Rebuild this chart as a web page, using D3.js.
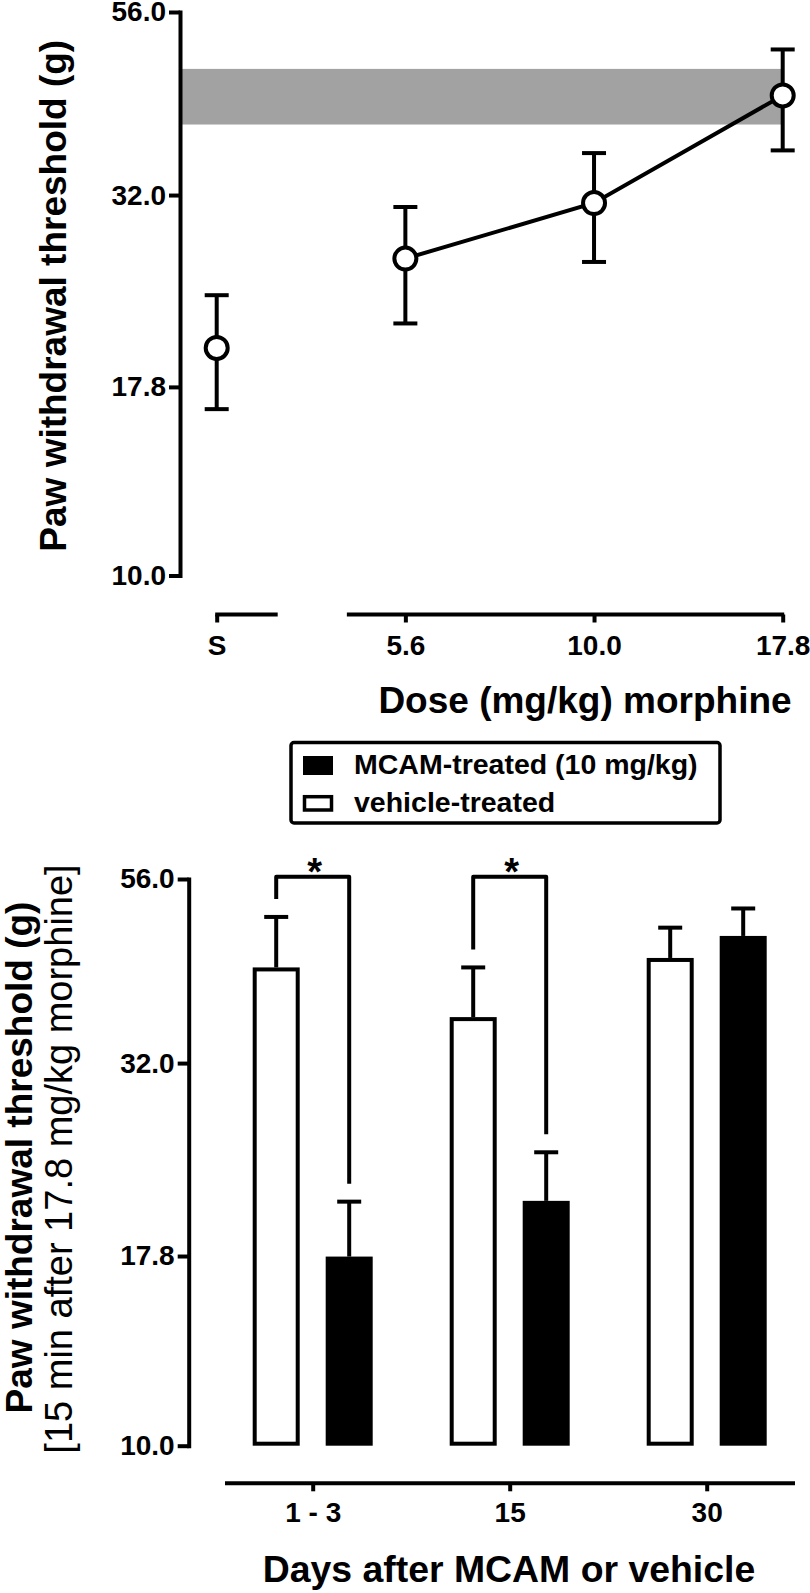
<!DOCTYPE html>
<html>
<head>
<meta charset="utf-8">
<script src="https://cdn.jsdelivr.net/npm/d3@7"></script>
<style>
  html, body { margin: 0; padding: 0; background: #fff; }
  svg { display: block; }
  text { font-family: "Liberation Sans", Arial, Helvetica, sans-serif; fill: #000; }
</style>
</head>
<body>
<script>
// ---------------- data ----------------
const doseLabels = ["S", "5.6", "10.0", "17.8"];
const doseMean   = [20.05, 26.35, 31.23, 43.39];
const doseLow    = [16.63, 21.61, 26.08, 36.68];
const doseHigh   = [23.56, 30.85, 36.38, 49.94];
const connectedDoses = ["5.6", "10.0", "17.8"];
const baselineBand = [39.7, 47.06];

const yTickValues = [10, 17.8, 32, 56];

const dayLabels   = ["1 - 3", "15", "30"];
const groupKeys   = ["vehicle", "MCAM"];
const legendNames = ["MCAM-treated (10 mg/kg)", "vehicle-treated"];
const vehicleMean = [42.8, 36.8, 44.05];
const vehicleHigh = [49.9, 42.8, 48.3];
const mcamMean    = [17.77, 21.05, 47.1];
const mcamHigh    = [21.0, 24.4, 51.2];
const sigDays     = ["1 - 3", "15"];
const sigLabel    = "*";
const bracketTopValue = 56.4;

// ---------------- setup ----------------
const W = 810, H = 1593;
const svg = d3.select("body").append("svg").attr("width", W).attr("height", H);
const SW = 4;
const fmt = d3.format(".1f");

function styleAxis(g) {
  g.selectAll("path.domain").attr("stroke", "#000").attr("stroke-width", SW).attr("stroke-linecap", "square");
  g.selectAll(".tick line").attr("stroke", "#000").attr("stroke-width", SW);
  g.selectAll(".tick text").attr("fill", "#000").style("font-size", "28px").style("font-weight", "bold")
    .style("font-family", '"Liberation Sans", Arial, sans-serif');
}

// ================= TOP PANEL =================
const topAxisX = 180;
const yTop = d3.scaleLog().domain([10, 56]).range([575.5, 12]);
const xTop = d3.scalePoint().domain(doseLabels).range([216.7, 782.7]);

// baseline band
svg.append("rect")
  .attr("x", topAxisX)
  .attr("y", yTop(baselineBand[1]))
  .attr("width", xTop("17.8") - topAxisX)
  .attr("height", yTop(baselineBand[0]) - yTop(baselineBand[1]))
  .attr("fill", "#a2a2a2");

// y axis
const gyTop = svg.append("g").attr("transform", `translate(${topAxisX},0)`)
  .call(d3.axisLeft(yTop).tickValues(yTickValues).tickFormat(fmt).tickSize(11).tickSizeOuter(0).tickPadding(3));
styleAxis(gyTop);

// x axis (broken)
const axisTopY = 614.5;
const gxTop = svg.append("g").attr("transform", `translate(0,${axisTopY})`)
  .call(d3.axisBottom(xTop).tickSize(8).tickSizeOuter(0).tickPadding(13));
styleAxis(gxTop);
gxTop.select("path.domain").remove();
gxTop.append("line").attr("x1", xTop("S") - 1.5).attr("x2", xTop("S") + 61)
  .attr("y1", 0).attr("y2", 0).attr("stroke", "#000").attr("stroke-width", SW);
gxTop.append("line").attr("x1", xTop("5.6") - 58.5).attr("x2", xTop("17.8") + 1.5)
  .attr("y1", 0).attr("y2", 0).attr("stroke", "#000").attr("stroke-width", SW);

// error bars
const capHalf = 12;
const topPts = doseLabels.map((d, i) => ({ dose: d, m: doseMean[i], lo: doseLow[i], hi: doseHigh[i] }));
const eb = svg.append("g").attr("stroke", "#000").attr("stroke-width", SW).attr("fill", "none");
topPts.forEach(p => {
  const x = xTop(p.dose);
  eb.append("line").attr("x1", x).attr("x2", x).attr("y1", yTop(p.lo)).attr("y2", yTop(p.hi));
  eb.append("line").attr("x1", x - capHalf).attr("x2", x + capHalf).attr("y1", yTop(p.lo)).attr("y2", yTop(p.lo));
  eb.append("line").attr("x1", x - capHalf).attr("x2", x + capHalf).attr("y1", yTop(p.hi)).attr("y2", yTop(p.hi));
});

// connecting line
const line = d3.line().x(p => xTop(p.dose)).y(p => yTop(p.m));
svg.append("path")
  .datum(topPts.filter(p => connectedDoses.includes(p.dose)))
  .attr("d", line).attr("fill", "none").attr("stroke", "#000").attr("stroke-width", SW);

// points
svg.append("g").selectAll("circle").data(topPts).join("circle")
  .attr("cx", p => xTop(p.dose)).attr("cy", p => yTop(p.m)).attr("r", 11)
  .attr("fill", "#fff").attr("stroke", "#000").attr("stroke-width", SW);

// titles
svg.append("text")
  .attr("transform", `translate(65.5,${(yTop(10) + yTop(56)) / 2 + 2}) rotate(-90)`)
  .attr("text-anchor", "middle").style("font-size", "37px").style("font-weight", "bold")
  .text("Paw withdrawal threshold (g)");
svg.append("text")
  .attr("x", 585).attr("y", 713).attr("text-anchor", "middle")
  .style("font-size", "37px").style("font-weight", "bold")
  .text("Dose (mg/kg) morphine");

// ================= LEGEND =================
const lg = svg.append("g");
lg.append("rect").attr("x", 291).attr("y", 742.5).attr("width", 429).attr("height", 80.5)
  .attr("rx", 3).attr("fill", "#fff").attr("stroke", "#000").attr("stroke-width", 3.5);
lg.append("rect").attr("x", 303).attr("y", 756).attr("width", 30).attr("height", 19).attr("fill", "#000");
lg.append("rect").attr("x", 304.5).attr("y", 796.7).attr("width", 27).attr("height", 13.3)
  .attr("fill", "#fff").attr("stroke", "#000").attr("stroke-width", 3.5);
lg.selectAll("text.lab").data(legendNames).join("text").attr("class", "lab")
  .attr("x", 354).attr("y", (d, i) => 774 + i * 38)
  .style("font-size", "28.5px").style("font-weight", "bold").text(d => d);

// ================= BOTTOM PANEL =================
const botAxisX = 188.7;
const yBot = d3.scaleLog().domain([10, 56]).range([1445.7, 879]);
const xDay = d3.scalePoint().domain(dayLabels).range([312.7, 706.7]);
const xSub = d3.scaleBand().domain(groupKeys).range([-60, 60]).paddingInner(0.356);
const bw = xSub.bandwidth();

const gyBot = svg.append("g").attr("transform", `translate(${botAxisX},0)`)
  .call(d3.axisLeft(yBot).tickValues(yTickValues).tickFormat(fmt).tickSize(11).tickSizeOuter(0).tickPadding(3));
styleAxis(gyBot);

const axisBotY = 1483.3;
const gxBot = svg.append("g").attr("transform", `translate(0,${axisBotY})`)
  .call(d3.axisBottom(xDay).tickSize(8).tickSizeOuter(0).tickPadding(11));
styleAxis(gxBot);
gxBot.select("path.domain").remove();
gxBot.append("line").attr("x1", 225).attr("x2", 795).attr("y1", 0).attr("y2", 0)
  .attr("stroke", "#000").attr("stroke-width", SW);

const bars = [];
dayLabels.forEach((d, i) => {
  bars.push({ day: d, key: "vehicle", v: vehicleMean[i], hi: vehicleHigh[i] });
  bars.push({ day: d, key: "MCAM", v: mcamMean[i], hi: mcamHigh[i] });
});
const bx = b => xDay(b.day) + xSub(b.key);

// error bars (upward)
const eb2 = svg.append("g").attr("stroke", "#000").attr("stroke-width", SW);
bars.forEach(b => {
  const cx = bx(b) + bw / 2;
  eb2.append("line").attr("x1", cx).attr("x2", cx).attr("y1", yBot(b.v)).attr("y2", yBot(b.hi));
  eb2.append("line").attr("x1", cx - capHalf).attr("x2", cx + capHalf).attr("y1", yBot(b.hi)).attr("y2", yBot(b.hi));
});

// bars
svg.append("g").selectAll("rect").data(bars).join("rect")
  .attr("x", b => b.key === "vehicle" ? bx(b) + SW / 2 : bx(b))
  .attr("y", b => b.key === "vehicle" ? yBot(b.v) + SW / 2 : yBot(b.v))
  .attr("width", b => b.key === "vehicle" ? bw - SW : bw)
  .attr("height", b => b.key === "vehicle" ? yBot(10) - yBot(b.v) - SW : yBot(10) - yBot(b.v))
  .attr("fill", b => b.key === "vehicle" ? "#fff" : "#000")
  .attr("stroke", b => b.key === "vehicle" ? "#000" : "none")
  .attr("stroke-width", SW);

// significance brackets
const legGap = 18;
sigDays.forEach(d => {
  const i = dayLabels.indexOf(d);
  const xl = xDay(d) + xSub("vehicle") + bw / 2;
  const xr = xDay(d) + xSub("MCAM") + bw / 2;
  const yt = yBot(bracketTopValue);
  const yl = yBot(vehicleHigh[i]) - legGap;
  const yr = yBot(mcamHigh[i]) - legGap;
  svg.append("path")
    .attr("d", `M${xl},${yl}V${yt}H${xr}V${yr}`)
    .attr("fill", "none").attr("stroke", "#000").attr("stroke-width", SW).attr("stroke-linejoin", "round");
  svg.append("text").attr("x", (xl + xr) / 2 + 2).attr("y", yt + 8)
    .attr("text-anchor", "middle").style("font-size", "38px").style("font-weight", "bold").text(sigLabel);
});

// titles
svg.append("text")
  .attr("transform", `translate(32,1157.5) rotate(-90)`)
  .attr("text-anchor", "middle").style("font-size", "37px").style("font-weight", "bold")
  .text("Paw withdrawal threshold (g)");
svg.append("text")
  .attr("transform", `translate(72,1159) rotate(-90)`)
  .attr("text-anchor", "middle").style("font-size", "38px")
  .text("[15 min after 17.8 mg/kg morphine]");
svg.append("text")
  .attr("x", 509).attr("y", 1581.7).attr("text-anchor", "middle")
  .style("font-size", "37.4px").style("font-weight", "bold")
  .text("Days after MCAM or vehicle");
</script>
</body>
</html>
